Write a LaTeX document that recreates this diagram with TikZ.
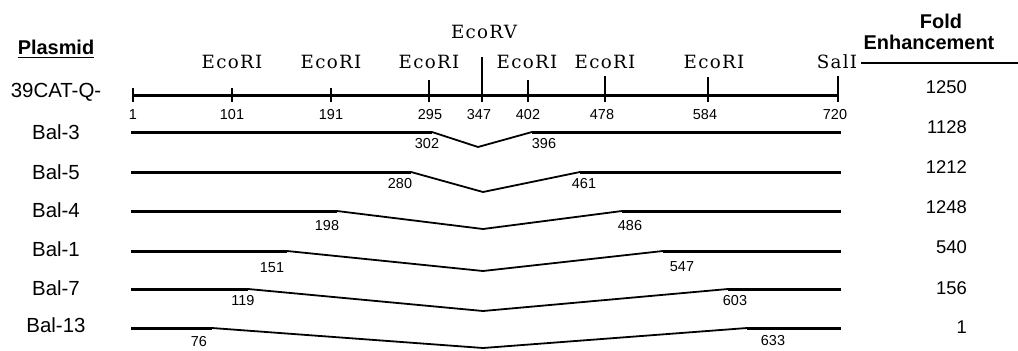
\documentclass[tikz,border=0pt]{standalone}
\usepackage{fontspec}
\setmainfont{Liberation Sans}
\newfontfamily\enzfont[LetterSpace=7]{DejaVu Serif}
\begin{document}
\begin{tikzpicture}[x=1bp,y=-1bp,
  mapline/.style={line width=3bp},
  keep/.style={line width=3bp},
  gap/.style={line width=1.8bp, line join=miter},
  tickmark/.style={line width=2bp},
  rule/.style={line width=1.5bp},
  rowlbl/.style={font=\fontsize{20.5}{21}\selectfont, inner sep=0},
  sitenum/.style={font=\fontsize{14.5}{15}\selectfont, inner sep=0},
  foldval/.style={font=\fontsize{18.5}{19}\selectfont, inner sep=0, anchor=east},
  head/.style={font=\bfseries\fontsize{20}{20}\selectfont, inner sep=0},
  enz/.style={font=\enzfont\fontsize{18.3}{18}\selectfont, inner sep=0}]
\useasboundingbox (0,0) rectangle (1018,350);

% column headings
\node[head, anchor=base] (plasmid) at (56,54) {Plasmid};
\draw[rule] ([yshift=-3.5bp]plasmid.base west) -- ([yshift=-3.5bp]plasmid.base east);
\node[head] (fold) at (941,21) {Fold};
\node[head] (enh) at (929,42) {Enhancement};
\coordinate (ruleL) at (861,63);
\coordinate (ruleR) at (1018,63);
\draw[rule] (ruleL) -- (ruleR);

% parent plasmid map
\node[rowlbl] (parent) at (56,92) {39CAT-Q-};
\node[foldval] (fparent) at (967,87) {1250};
\coordinate (mapA) at (133,95);
\coordinate (mapB) at (838,95);
\draw[mapline] (mapA) -- (mapB);

% restriction sites: name/x/top of tick/position label/label x
\foreach \s/\x/\t/\p/\px in {s1/133/88/1/133, s101/232/88/101/232, s191/331/88/191/331,
    s295/429/80/295/430, s347/482/57/347/479, s402/528/80/402/528,
    s478/605/76/478/602, s584/708/77/584/705, s720/838/76/720/835}{
  \coordinate (\s top) at (\x,\t);
  \coordinate (\s bot) at (\x,102);
  \draw[tickmark] (\s top) -- (\s bot);
  \node[sitenum] (\s lbl) at (\px,115) {\p};
}

% enzyme names
\foreach \e/\x in {e101/232, e191/331, e295/429, e402/527, e478/605, e584/714}{
  \node[enz] (\e) at (\x,62) {EcoRI};
}
\node[enz] (ecorv) at (484,32) {EcoRV};
\node[enz] (sali) at (837,62) {SalI};

% deletion derivatives
% id/row y/left break/vertex x/vertex y/right break/left label/x/y/right label/x/y/name/label y/fold/fold y
\foreach \id/\y/\lx/\vx/\vy/\rx/\lt/\ltx/\lty/\rt/\rtx/\rty/\nm/\ny/\fv/\fy in {
  b3/132/432/478/147/532/302/427/144/396/544/144/Bal-3/132/1128/127,
  b5/172/411/483/192/580/280/400/184/461/584/184/Bal-5/172/1212/167,
  b4/211/337/483/229/622/198/327/226/486/630/226/Bal-4/210/1248/207,
  b1/251/287/483/271/663/151/272/268/547/682/267/Bal-1/249/540/247,
  b7/289/248/483/311/728/119/243/301/603/735/301/Bal-7/288/156/288,
  b13/328/212/483/348/747/76/199/342/633/773/341/Bal-13/325/1/327}{
  \coordinate (\id S) at (131,\y);
  \coordinate (\id L) at (\lx,\y);
  \coordinate (\id V) at (\vx,\vy);
  \coordinate (\id R) at (\rx,\y);
  \coordinate (\id E) at (841,\y);
  \draw[keep] (\id S) -- (\id L);
  \draw[gap] (\id L) -- (\id V) -- (\id R);
  \draw[keep] (\id R) -- (\id E);
  \node[sitenum] (\id ll) at (\ltx,\lty) {\lt};
  \node[sitenum] (\id rl) at (\rtx,\rty) {\rt};
  \node[rowlbl] (\id name) at (56,\ny) {\nm};
  \node[foldval] (\id fold) at (967,\fy) {\fv};
}
\end{tikzpicture}
\end{document}
